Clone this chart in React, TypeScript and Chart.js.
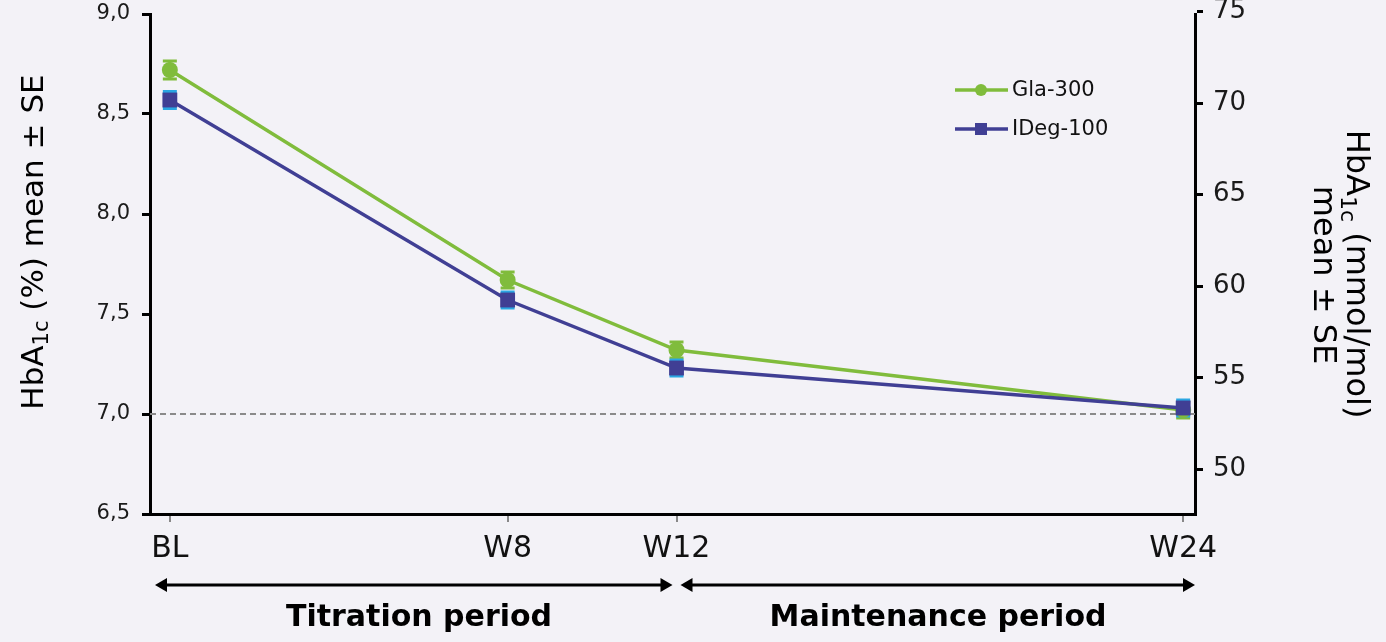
import React, { useEffect, useRef } from "react";
import { Chart, registerables } from "chart.js";

Chart.register(...registerables);

// Visit positions in weeks and their labels
const weeks = [0, 8, 12, 24];
const weekLabels = ["BL", "W8", "W12", "W24"];

// HbA1c (%) means and standard errors per visit
const gla300 = [8.72, 7.67, 7.32, 7.02];
const gla300SE = [0.045, 0.04, 0.04, 0.04];
const ideg100 = [8.57, 7.57, 7.23, 7.03];
const ideg100SE = [0.043, 0.04, 0.04, 0.04];

// Axis tick values
const pctTicks = [6.5, 7.0, 7.5, 8.0, 8.5, 9.0];
const mmolTicks = [50, 55, 60, 65, 70, 75];
const targetPct = 7.0;

// Period spans (weeks) shown under the x axis
const periods = [
  { label: "Titration period", from: 0, to: 12 },
  { label: "Maintenance period", from: 12, to: 24 },
];

const seriesNames = ["Gla-300", "IDeg-100"];

const GREEN = "#80bc3c";
const NAVY = "#403f94";
const CYAN = "#2aa6e2";
const BG = "#f3f2f7";
const FONT = "'DejaVu Sans', Verdana, sans-serif";

// IFCC conversion: mmol/mol = (% - 2.15) * 10.929
const toMmol = (p: number) => (p - 2.15) * 10.929;
const PCT_MIN = 6.5;
const PCT_MAX = 9.0;

function drawRich(
  ctx: CanvasRenderingContext2D,
  parts: { text: string; size: number; dy: number }[],
  weight = "normal"
) {
  let total = 0;
  const widths = parts.map((p) => {
    ctx.font = `${weight} ${p.size}px ${FONT}`;
    const w = ctx.measureText(p.text).width;
    total += w;
    return w;
  });
  let x = -total / 2;
  parts.forEach((p, i) => {
    ctx.font = `${weight} ${p.size}px ${FONT}`;
    ctx.fillText(p.text, x, p.dy);
    x += widths[i];
  });
}

function drawArrow(ctx: CanvasRenderingContext2D, x1: number, x2: number, y: number) {
  const head = 12;
  const half = 7;
  ctx.save();
  ctx.strokeStyle = "#000";
  ctx.fillStyle = "#000";
  ctx.lineWidth = 3;
  ctx.beginPath();
  ctx.moveTo(x1 + head - 2, y);
  ctx.lineTo(x2 - head + 2, y);
  ctx.stroke();
  ctx.beginPath();
  ctx.moveTo(x1, y);
  ctx.lineTo(x1 + head, y - half);
  ctx.lineTo(x1 + head, y + half);
  ctx.closePath();
  ctx.fill();
  ctx.beginPath();
  ctx.moveTo(x2, y);
  ctx.lineTo(x2 - head, y - half);
  ctx.lineTo(x2 - head, y + half);
  ctx.closePath();
  ctx.fill();
  ctx.restore();
}

const decorPlugin = {
  id: "decor",
  beforeDraw(chart: any) {
    const { ctx, width, height } = chart;
    ctx.save();
    ctx.fillStyle = BG;
    ctx.fillRect(0, 0, width, height);
    ctx.restore();
  },
  beforeDatasetsDraw(chart: any) {
    const { ctx, chartArea, scales } = chart;
    const xs = scales.x;
    const ys = scales.y;
    // dashed target line
    const yt = ys.getPixelForValue(targetPct);
    ctx.save();
    ctx.strokeStyle = "#8a8a8a";
    ctx.lineWidth = 2;
    ctx.setLineDash([6, 4]);
    ctx.beginPath();
    ctx.moveTo(chartArea.left, yt);
    ctx.lineTo(chartArea.right, yt);
    ctx.stroke();
    ctx.restore();

    // error bars
    const sets = [
      { vals: gla300, se: gla300SE, color: GREEN },
      { vals: ideg100, se: ideg100SE, color: CYAN },
    ];
    ctx.save();
    ctx.lineWidth = 3;
    sets.forEach((s) => {
      ctx.strokeStyle = s.color;
      s.vals.forEach((v, i) => {
        const px = xs.getPixelForValue(weeks[i]);
        const top = ys.getPixelForValue(v + s.se[i]);
        const bot = ys.getPixelForValue(v - s.se[i]);
        ctx.beginPath();
        ctx.moveTo(px, top);
        ctx.lineTo(px, bot);
        ctx.moveTo(px - 7, top);
        ctx.lineTo(px + 7, top);
        ctx.moveTo(px - 7, bot);
        ctx.lineTo(px + 7, bot);
        ctx.stroke();
      });
    });
    ctx.restore();
  },
  afterDraw(chart: any) {
    const { ctx, scales } = chart;
    const xs = scales.x;

    // legend
    const legend = [
      { name: seriesNames[0], color: GREEN, y: 90, shape: "circle" },
      { name: seriesNames[1], color: NAVY, y: 129, shape: "square" },
    ];
    ctx.save();
    legend.forEach((l) => {
      ctx.strokeStyle = l.color;
      ctx.fillStyle = l.color;
      ctx.lineWidth = 3.5;
      ctx.beginPath();
      ctx.moveTo(955, l.y);
      ctx.lineTo(1008, l.y);
      ctx.stroke();
      if (l.shape === "circle") {
        ctx.beginPath();
        ctx.arc(981, l.y, 6, 0, Math.PI * 2);
        ctx.fill();
      } else {
        ctx.fillRect(975, l.y - 6, 12, 12);
      }
      ctx.fillStyle = "#111";
      ctx.font = `21px ${FONT}`;
      ctx.textBaseline = "middle";
      ctx.textAlign = "left";
      ctx.fillText(l.name, 1012, l.y + 1);
    });
    ctx.restore();

    // left axis title
    ctx.save();
    ctx.fillStyle = "#000";
    ctx.textBaseline = "middle";
    ctx.textAlign = "left";
    ctx.translate(35, 242);
    ctx.rotate(-Math.PI / 2);
    drawRich(ctx, [
      { text: "HbA", size: 31, dy: 0 },
      { text: "1c", size: 21, dy: 8 },
      { text: " (%) mean \u00b1 SE", size: 31, dy: 0 },
    ]);
    ctx.restore();

    // right axis title (two lines)
    ctx.save();
    ctx.fillStyle = "#000";
    ctx.textBaseline = "middle";
    ctx.textAlign = "left";
    ctx.translate(1355, 274);
    ctx.rotate(Math.PI / 2);
    drawRich(ctx, [
      { text: "HbA", size: 32, dy: 0 },
      { text: "1c", size: 22, dy: 8 },
      { text: " (mmol/mol)", size: 32, dy: 0 },
    ]);
    ctx.restore();
    ctx.save();
    ctx.fillStyle = "#000";
    ctx.textBaseline = "middle";
    ctx.textAlign = "left";
    ctx.translate(1322, 275);
    ctx.rotate(Math.PI / 2);
    drawRich(ctx, [{ text: "mean \u00b1 SE", size: 32, dy: 0 }]);
    ctx.restore();

    // period arrows and labels
    const arrowY = 585;
    const left = chart.chartArea.left;
    const right = chart.chartArea.right;
    const mid = xs.getPixelForValue(periods[0].to);
    drawArrow(ctx, left + 5, mid - 4, arrowY);
    drawArrow(ctx, mid + 4, right, arrowY);
    ctx.save();
    ctx.fillStyle = "#000";
    ctx.textBaseline = "middle";
    ctx.textAlign = "center";
    ctx.font = `bold 30px ${FONT}`;
    ctx.fillText(periods[0].label, 419, 618);
    ctx.fillText(periods[1].label, 938, 618);
    ctx.restore();
  },
};

export default function App() {
  const ref = useRef<HTMLCanvasElement | null>(null);

  useEffect(() => {
    document.body.style.margin = "0";
    document.body.style.background = BG;
    const canvas = ref.current;
    if (!canvas) return;
    const chart = new Chart(canvas, {
      type: "line",
      data: {
        datasets: [
          {
            label: seriesNames[0],
            data: weeks.map((w, i) => ({ x: w, y: gla300[i] })),
            borderColor: GREEN,
            backgroundColor: GREEN,
            borderWidth: 3.5,
            pointStyle: "circle",
            pointRadius: 8,
            pointBorderWidth: 0,
            pointBackgroundColor: GREEN,
            yAxisID: "y",
            order: 1,
          },
          {
            label: seriesNames[1],
            data: weeks.map((w, i) => ({ x: w, y: ideg100[i] })),
            borderColor: NAVY,
            backgroundColor: NAVY,
            borderWidth: 3.5,
            pointStyle: "rect",
            pointRadius: 10.5,
            pointBorderWidth: 0,
            pointBackgroundColor: NAVY,
            yAxisID: "y",
            order: 0,
          },
        ],
      },
      options: {
        responsive: false,
        animation: false,
        devicePixelRatio: 1,
        layout: { padding: { top: 14, left: 0, right: 0, bottom: 0 } },
        plugins: { legend: { display: false }, tooltip: { enabled: false } },
        scales: {
          x: {
            type: "linear",
            position: "bottom",
            min: -0.47,
            max: 24.28,
            afterBuildTicks: (s: any) => {
              s.ticks = weeks.map((v) => ({ value: v }));
            },
            afterFit: (s: any) => {
              s.height = 128;
              s.paddingLeft = 0;
              s.paddingRight = 0;
            },
            ticks: {
              callback: (v: any) => {
                const i = weeks.indexOf(Number(v));
                return i >= 0 ? weekLabels[i] : "";
              },
              font: { family: FONT, size: 30 },
              color: "#111",
              padding: 9,
              maxRotation: 0,
              autoSkip: false,
            },
            grid: {
              drawOnChartArea: false,
              drawTicks: true,
              tickLength: 8,
              color: "#888",
              lineWidth: 2,
            },
            border: { color: "#000", width: 3 },
          },
          y: {
            type: "linear",
            position: "left",
            min: PCT_MIN,
            max: PCT_MAX,
            afterBuildTicks: (s: any) => {
              s.ticks = pctTicks.map((v) => ({ value: v }));
            },
            afterFit: (s: any) => {
              s.width = 150;
              s.paddingTop = 0;
              s.paddingBottom = 0;
            },
            ticks: {
              callback: (v: any) => Number(v).toFixed(1).replace(".", ","),
              font: { family: FONT, size: 21 },
              color: "#1a1a1a",
              padding: 12,
            },
            grid: {
              drawOnChartArea: false,
              drawTicks: true,
              tickLength: 8,
              color: "#000",
              lineWidth: 3,
            },
            border: { color: "#000", width: 3 },
          },
          y2: {
            type: "linear",
            position: "right",
            min: toMmol(PCT_MIN),
            max: toMmol(PCT_MAX),
            afterBuildTicks: (s: any) => {
              s.ticks = mmolTicks.map((v) => ({ value: v }));
            },
            afterFit: (s: any) => {
              s.width = 191;
              s.paddingTop = 0;
              s.paddingBottom = 0;
            },
            ticks: {
              callback: (v: any) => String(v),
              font: { family: FONT, size: 26 },
              color: "#1a1a1a",
              padding: 10,
            },
            grid: {
              drawOnChartArea: false,
              drawTicks: true,
              tickLength: 8,
              color: "#000",
              lineWidth: 3,
            },
            border: { color: "#000", width: 3 },
          },
        },
      },
      plugins: [decorPlugin],
    } as any);
    return () => chart.destroy();
  }, []);

  return (
    <div style={{ position: "absolute", left: 0, top: 0, width: 1386, height: 642, background: BG }}>
      <canvas ref={ref} width={1386} height={642} style={{ display: "block" }} />
    </div>
  );
}
